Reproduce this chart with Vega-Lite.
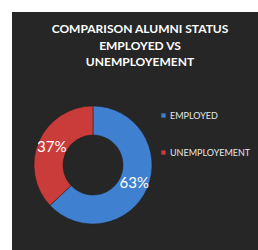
{
  "$schema": "https://vega.github.io/schema/vega-lite/v6.json",
  "autosize": {"type": "none"},
  "width": 246,
  "height": 238,
  "padding": {"left": 12, "top": 12, "right": 0, "bottom": 0},
  "background": "white",
  "config": {"view": {"fill": "#262626", "stroke": null}},
  "title": {
    "text": ["COMPARISON ALUMNI STATUS", "EMPLOYED VS", "UNEMPLOYEMENT"],
    "color": "white",
    "font": "Lato",
    "fontSize": 12,
    "fontWeight": "bold",
    "anchor": "middle",
    "baseline": "top",
    "lineHeight": 16.5,
    "offset": -57,
    "dx": 5
  },
  "data": {
    "values": [
      {"status": "EMPLOYED", "pct": 0.63, "order": 1},
      {"status": "UNEMPLOYEMENT", "pct": 0.37, "order": 2}
    ]
  },
  "encoding": {
    "theta": {"field": "pct", "type": "quantitative", "stack": true},
    "order": {"field": "order", "type": "quantitative"},
    "x": {"value": 81},
    "y": {"value": 153}
  },
  "layer": [
    {
      "mark": {"type": "arc", "outerRadius": 59, "innerRadius": 30, "stroke": "#1f1f1f", "strokeWidth": 0.5},
      "encoding": {
        "color": {
          "field": "status",
          "type": "nominal",
          "sort": ["EMPLOYED", "UNEMPLOYEMENT"],
          "scale": {"domain": ["EMPLOYED", "UNEMPLOYEMENT"], "range": ["#3f80d0", "#c93c39"]},
          "legend": {
            "title": null,
            "orient": "none",
            "legendX": 147,
            "legendY": 99,
            "symbolType": "square",
            "symbolSize": 18,
            "symbolStrokeWidth": 0,
            "labelColor": "#e6e6e6",
            "labelFont": "Lato",
            "labelFontSize": 9,
            "labelOffset": 2,
            "rowPadding": 27
          }
        }
      }
    },
    {
      "mark": {"type": "text", "radius": 45, "color": "white", "font": "Lato", "fontSize": 15},
      "encoding": {
        "text": {"field": "pct", "type": "quantitative", "format": ".0%"},
        "detail": {"field": "status"}
      }
    }
  ]
}
